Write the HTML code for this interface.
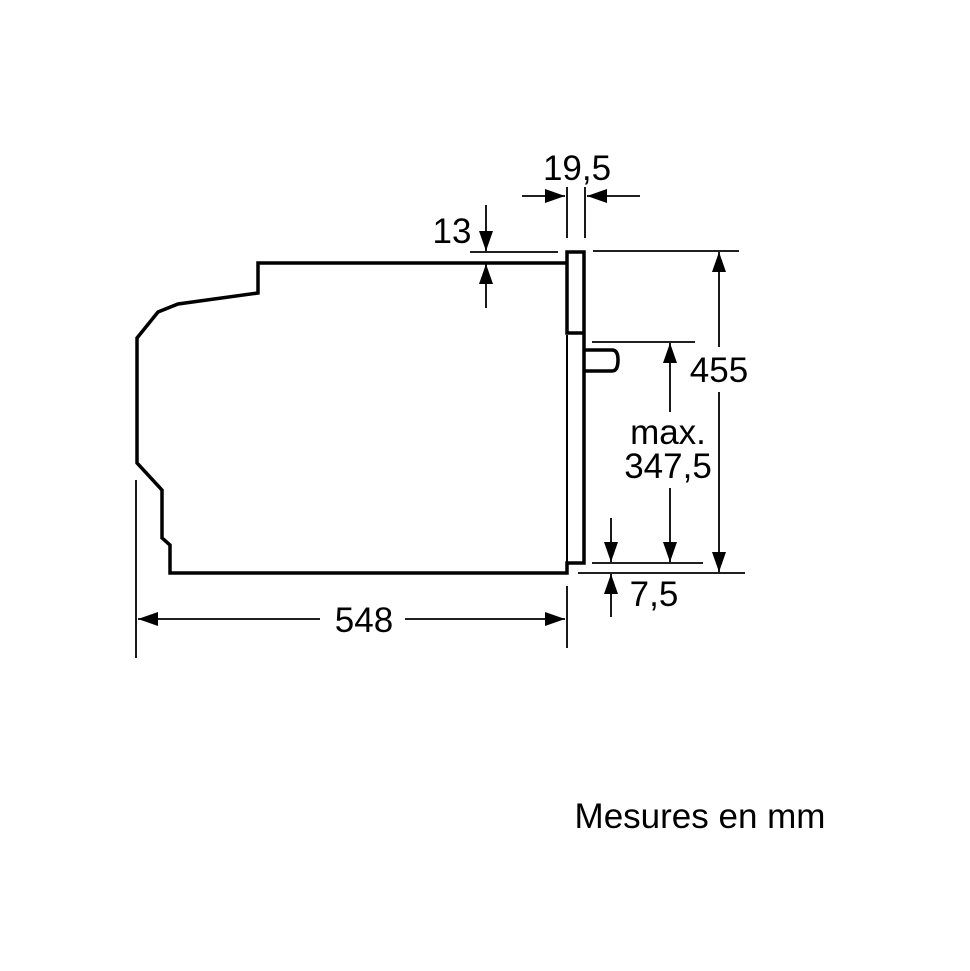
<!DOCTYPE html>
<html><head><style>
body{margin:0;background:#fff}
svg{display:block}
text{font-family:"Liberation Sans",Arial,sans-serif;font-size:35px;fill:#000}
</style></head><body>
<svg width="970" height="971" viewBox="0 0 970 971" xmlns="http://www.w3.org/2000/svg">
<defs>
<marker id="a" viewBox="0 0 20 14" refX="20" refY="7" markerWidth="20" markerHeight="14" markerUnits="userSpaceOnUse" orient="auto"><path d="M0,0 L20,7 L0,14Z" fill="#000"/></marker>
</defs>
<g fill="none" stroke="#000" stroke-width="3.5" stroke-linejoin="miter">
<path d="M567,263 H258 V293 L178,304 L158,312 L137,338 V463 L162,490 V538 L170,545 V573 H567 V563 H584 V333 H567 V252 H584 V333"/>
<path d="M584,350 H612 Q618,350 618,360 Q618,371 612,371 H584"/>
</g>
<line x1="567" y1="335" x2="567" y2="563" stroke="#000" stroke-width="2"/>
<g stroke="#000" stroke-width="1.8" fill="none">
<line x1="470" y1="252" x2="558" y2="252"/>
<line x1="593" y1="251" x2="739" y2="251"/>
<line x1="567" y1="187" x2="567" y2="238"/>
<line x1="585" y1="187" x2="585" y2="238"/>
<line x1="522" y1="196" x2="565" y2="196" marker-end="url(#a)"/>
<line x1="640" y1="196" x2="587" y2="196" marker-end="url(#a)"/>
<line x1="592" y1="342" x2="695" y2="342"/>
<line x1="592" y1="563" x2="703" y2="563"/>
<line x1="578" y1="573" x2="745" y2="573"/>
<line x1="670" y1="488" x2="670" y2="562" marker-end="url(#a)"/>
<line x1="670" y1="412" x2="670" y2="343" marker-end="url(#a)"/>
<line x1="719" y1="347" x2="719" y2="252" marker-end="url(#a)"/>
<line x1="719" y1="392" x2="719" y2="572" marker-end="url(#a)"/>
<line x1="611" y1="518" x2="611" y2="562" marker-end="url(#a)"/>
<line x1="611" y1="617" x2="611" y2="574" marker-end="url(#a)"/>
<line x1="486" y1="205" x2="486" y2="251" marker-end="url(#a)"/>
<line x1="486" y1="308" x2="486" y2="264" marker-end="url(#a)"/>
<line x1="136" y1="480" x2="136" y2="658"/>
<line x1="567" y1="586" x2="567" y2="648"/>
<line x1="320" y1="619" x2="138" y2="619" marker-end="url(#a)"/>
<line x1="405" y1="619" x2="565" y2="619" marker-end="url(#a)"/>
</g>
<text x="577" y="180" text-anchor="middle">19,5</text>
<text x="452" y="243" text-anchor="middle">13</text>
<text x="719" y="382" text-anchor="middle">455</text>
<text x="668" y="444" text-anchor="middle">max.</text>
<text x="668" y="478" text-anchor="middle">347,5</text>
<text x="654" y="606" text-anchor="middle">7,5</text>
<text x="364" y="632" text-anchor="middle">548</text>
<text x="700" y="828" text-anchor="middle">Mesures en mm</text>
</svg>
</body></html>
